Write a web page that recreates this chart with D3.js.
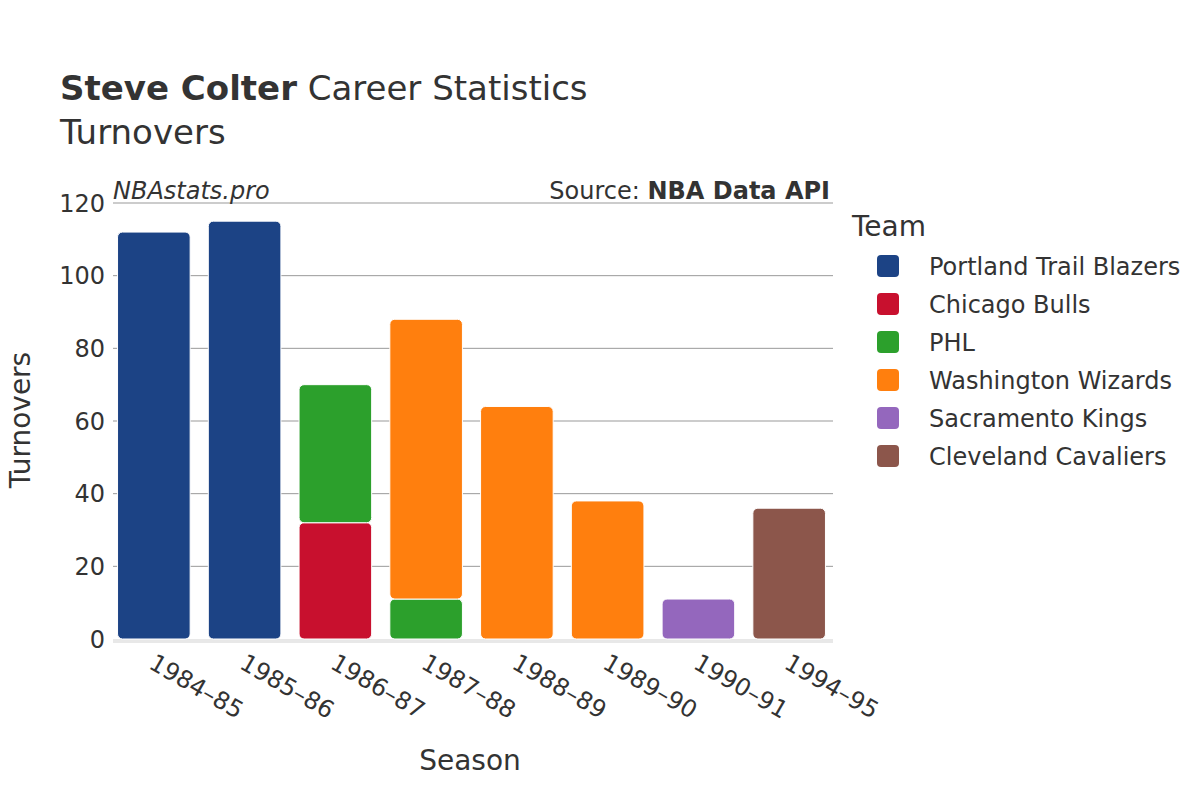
<!DOCTYPE html>
<html><head><meta charset="utf-8">
<script src="https://cdn.jsdelivr.net/npm/d3@7"></script>
<style>body{margin:0;background:#fff;} text{font-family:"DejaVu Sans",sans-serif;fill:#333;}</style>
</head><body>
<svg id="c" width="1200" height="800"></svg>
<script>
const seasons = ["1984–85","1985–86","1986–87","1987–88","1988–89","1989–90","1990–91","1994–95"];
const teams = ["Portland Trail Blazers","Chicago Bulls","PHL","Washington Wizards","Sacramento Kings","Cleveland Cavaliers"];
const colors = ["#1c4385","#c8102e","#2ca02c","#ff7f0e","#9467bd","#8c564b"];
const portland   = [112,115,0,0,0,0,0,0];
const chicago    = [0,0,32,0,0,0,0,0];
const phl        = [0,0,38,11,0,0,0,0];
const washington = [0,0,0,77,64,38,0,0];
const sacramento = [0,0,0,0,0,0,11,0];
const cleveland  = [0,0,0,0,0,0,0,36];
const yTicks = [0,20,40,60,80,100,120];

const series = [portland,chicago,phl,washington,sacramento,cleveland];
const svg = d3.select("#c");
const L=113, R=833, T=203, B=639;
const x = d3.scaleBand().domain(seasons).range([L,830]).paddingInner(0.2).paddingOuter(0.05);
const y = d3.scaleLinear().domain([0,120]).range([B,T]);

// grid
svg.append("g").selectAll("line").data(yTicks.filter(d=>d>0)).join("line")
  .attr("x1",L).attr("x2",R).attr("y1",d=>y(d)).attr("y2",d=>y(d))
  .attr("stroke","#999").attr("stroke-width",1);
svg.append("line").attr("x1",L).attr("x2",R).attr("y1",B+2).attr("y2",B+2).attr("stroke","#e8e8e8").attr("stroke-width",4);

// y labels
svg.append("g").selectAll("text").data(yTicks).join("text")
  .attr("x",L-8).attr("y",d=>y(d)).attr("dy","0.36em").attr("text-anchor","end")
  .attr("font-size",24).text(d=>d);

// bars
const stackData = seasons.map((s,i)=>{const o={season:s}; teams.forEach((t,j)=>o[t]=series[j][i]); return o;});
const stacked = d3.stack().keys(teams)(stackData);
stacked.forEach((layer,j)=>{
  svg.append("g").selectAll("rect").data(layer.filter(d=>d[1]-d[0]>0)).join("rect")
    .attr("x",d=>x(d.data.season)).attr("width",x.bandwidth())
    .attr("y",d=>y(d[1])).attr("height",d=>y(d[0])-y(d[1]))
    .attr("rx",5).attr("fill",colors[j]).attr("stroke","#fff").attr("stroke-width",1);
});

// x labels
svg.append("g").selectAll("text").data(seasons).join("text")
  .attr("transform",d=>`translate(${x(d)+x.bandwidth()/2+2},${B+14}) rotate(30)`)
  .attr("dy","0.7em").attr("font-size",24).text(d=>d);

// titles
const t = svg.append("text").attr("x",60).attr("y",100).attr("font-size",34);
t.append("tspan").attr("font-weight","bold").text("Steve Colter");
t.append("tspan").text(" Career Statistics");
svg.append("text").attr("x",60).attr("y",144).attr("font-size",34).text("Turnovers");
svg.append("text").attr("x",113).attr("y",199).attr("font-size",24).attr("font-style","italic").text("NBAstats.pro");
const s = svg.append("text").attr("x",830).attr("y",199).attr("font-size",24).attr("text-anchor","end");
s.append("tspan").text("Source: ");
s.append("tspan").attr("font-weight","bold").text("NBA Data API");
svg.append("text").attr("x",470).attr("y",770).attr("font-size",28).attr("text-anchor","middle").text("Season");
svg.append("text").attr("transform","translate(20,420) rotate(-90)").attr("font-size",28).attr("text-anchor","middle").attr("dy","0.35em").text("Turnovers");

// legend
svg.append("text").attr("x",852).attr("y",236).attr("font-size",28).text("Team");
const lg = svg.append("g").selectAll("g").data(teams).join("g")
  .attr("transform",(d,i)=>`translate(0,${266+i*38})`);
lg.append("rect").attr("x",877).attr("y",-11).attr("width",22).attr("height",22).attr("rx",4).attr("fill",(d,i)=>colors[i]);
lg.append("text").attr("x",929).attr("dy","0.36em").attr("font-size",24).text(d=>d);
</script>
</body></html>
